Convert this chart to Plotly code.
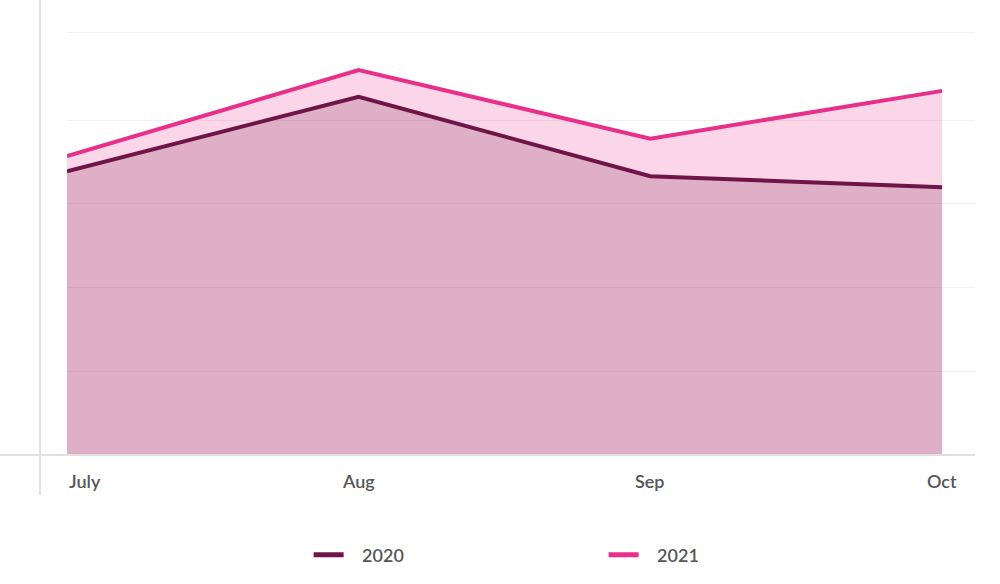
import plotly.graph_objects as go

# chart data
months = ["July", "Aug", "Sep", "Oct"]
series_names = ["2020", "2021"]
sales_2020 = [33.9, 42.8, 33.3, 32.0]
sales_2021 = [35.7, 46.0, 37.8, 43.5]
grid_vals = [0, 10, 20, 30, 40, 50.5]

COL_2020 = "#6e1447"
COL_2021 = "#e8308a"
LABEL_FONT = dict(family="Lato", size=18, color="#555555", weight=600)

fig = go.Figure()

# 2021 goes underneath; both fills are see-through so the grid shows
fig.add_trace(go.Scatter(
    x=months, y=sales_2021, name=series_names[1], mode="lines",
    line=dict(color=COL_2021, width=4),
    fill="tozeroy", fillcolor="rgba(232,48,138,0.2)",
    showlegend=False,
))
fig.add_trace(go.Scatter(
    x=months, y=sales_2020, name=series_names[0], mode="lines",
    line=dict(color=COL_2020, width=4),
    fill="tozeroy", fillcolor="rgba(110,20,71,0.2)",
    showlegend=False,
))

# legend-only entries so the key is a plain line, not a filled box
for name, col in zip(series_names, [COL_2020, COL_2021]):
    fig.add_trace(go.Scatter(
        x=[None], y=[None], name="   " + name, mode="lines",
        line=dict(color=col, width=5),
    ))

# month labels (July sits left-aligned at the plot edge)
for i, m in enumerate(months):
    fig.add_annotation(
        x=m, y=-0.057, xref="x", yref="paper",
        text=m, showarrow=False,
        xanchor="left" if i == 0 else "center", yanchor="middle",
        font=LABEL_FONT,
    )

# axis lines drawn by hand so they reach past the plot area
fig.add_shape(type="line", xref="paper", yref="paper",
              x0=-0.0297, x1=-0.0297, y0=-0.088, y1=1.0,
              line=dict(color="#e0e0e0", width=2))
fig.add_shape(type="line", xref="paper", yref="paper",
              x0=-0.0738, x1=1.0, y0=0, y1=0,
              line=dict(color="#e0e0e0", width=2))

fig.update_layout(
    width=1000, height=584,
    margin=dict(l=67, r=25, t=0, b=129),
    paper_bgcolor="white", plot_bgcolor="white",
    font=LABEL_FONT,
    showlegend=True,
    legend=dict(
        orientation="h", x=0.591, xanchor="center",
        y=-0.22, yanchor="middle",
        entrywidth=250, font=LABEL_FONT,
    ),
    xaxis=dict(
        range=[0, 3.113], showticklabels=False, showgrid=False,
        zeroline=False, showline=False, fixedrange=True,
    ),
    yaxis=dict(
        range=[0, 54.36], tickvals=grid_vals, showticklabels=False,
        showgrid=True, gridcolor="#f0f0f0", gridwidth=1,
        zeroline=False, showline=False,
    ),
)

# drop the page's default body margin so the chart sits at (0, 0)
fig.write_html("out.html", config={"displayModeBar": False},
               post_script="document.body.style.margin = '0';")
